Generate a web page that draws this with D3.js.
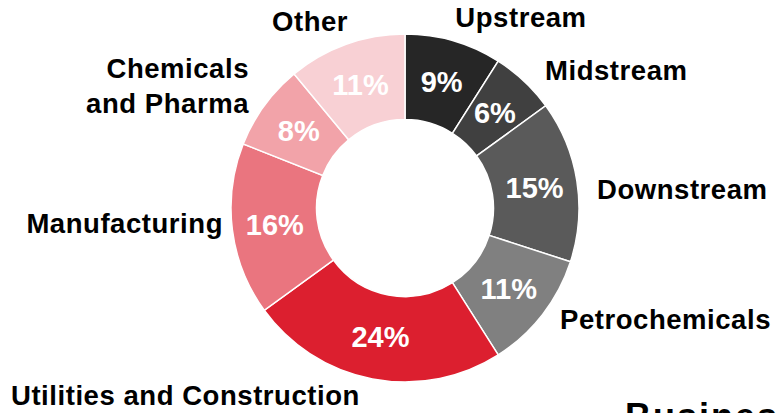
<!DOCTYPE html>
<html>
<head>
<meta charset="utf-8">
<script src="https://cdn.jsdelivr.net/npm/d3@7"></script>
<style>
  html, body { margin: 0; padding: 0; background: #fff; overflow: hidden; }
  svg { display: block; }
  text { font-family: "Liberation Sans", Arial, Helvetica, sans-serif; font-weight: bold; }
</style>
</head>
<body>
<svg id="chart" width="779" height="413"></svg>
<script>
// ---- data ----
const categories = ["Upstream", "Midstream", "Downstream", "Petrochemicals",
  "Utilities and Construction", "Manufacturing", "Chemicals and Pharma", "Other"];
const shares = [9, 6, 15, 11, 24, 16, 8, 11];
const labelLines = [["Upstream"], ["Midstream"], ["Downstream"], ["Petrochemicals"],
  ["Utilities and Construction"], ["Manufacturing"], ["Chemicals", "and Pharma"], ["Other"]];
const colors = ["#262626", "#404040", "#5a5a5a", "#808080",
  "#dc1f2f", "#ea757f", "#f2a3a9", "#f8d0d4"];
const titleText = "Business";

// ---- layout ----
const W = 779, H = 413;
const cx = 405, cy = 208, outerR = 174, innerR = 88.5;
const labelLayout = [
  { x: 521, y: 27, anchor: "middle" },
  { x: 545, y: 80, anchor: "start" },
  { x: 597, y: 199, anchor: "start" },
  { x: 560, y: 329, anchor: "start" },
  { x: 11, y: 405, anchor: "start" },
  { x: 223, y: 233, anchor: "end" },
  { x: 249, y: 78, anchor: "end" },
  { x: 272, y: 31, anchor: "start" }
];

const svg = d3.select("#chart");
const data = categories.map((c, i) => ({ name: c, value: shares[i], idx: i }));

const pie = d3.pie().value(d => d.value).sort(null).startAngle(0).endAngle(2 * Math.PI);
const arc = d3.arc().innerRadius(innerR).outerRadius(outerR);
const color = d3.scaleOrdinal().domain(categories).range(colors);

const g = svg.append("g").attr("transform", `translate(${cx},${cy})`);
const arcs = pie(data);

g.selectAll("path.slice")
  .data(arcs)
  .join("path")
  .attr("class", "slice")
  .attr("d", arc)
  .attr("fill", d => color(d.data.name))
  .attr("stroke", "#ffffff")
  .attr("stroke-width", 1.5)
  .attr("stroke-linejoin", "miter");

g.selectAll("text.pct")
  .data(arcs)
  .join("text")
  .attr("class", "pct")
  .attr("x", d => arc.centroid(d)[0])
  .attr("y", d => arc.centroid(d)[1])
  .attr("dy", "0.36em")
  .attr("text-anchor", "middle")
  .attr("fill", "#ffffff")
  .style("font-size", "29px")
  .text(d => d.data.value + "%");

// category labels
const lab = svg.selectAll("text.cat")
  .data(data)
  .join("text")
  .attr("class", "cat")
  .attr("x", d => labelLayout[d.idx].x)
  .attr("y", d => labelLayout[d.idx].y)
  .attr("text-anchor", d => labelLayout[d.idx].anchor)
  .attr("fill", "#000000")
  .style("font-size", "27.5px")
  .style("letter-spacing", "0.55px");

lab.each(function(d) {
  const t = d3.select(this);
  labelLines[d.idx].forEach((line, k) => {
    t.append("tspan")
      .attr("x", labelLayout[d.idx].x)
      .attr("dy", k === 0 ? 0 : 34.5)
      .text(line);
  });
});

// cut-off title at bottom right (clipped by the frame, as in the reference)
svg.append("text")
  .attr("x", 625)
  .attr("y", 429)
  .attr("fill", "#000000")
  .style("font-size", "36px")
  .style("letter-spacing", "2px")
  .text(titleText);
</script>
</body>
</html>
